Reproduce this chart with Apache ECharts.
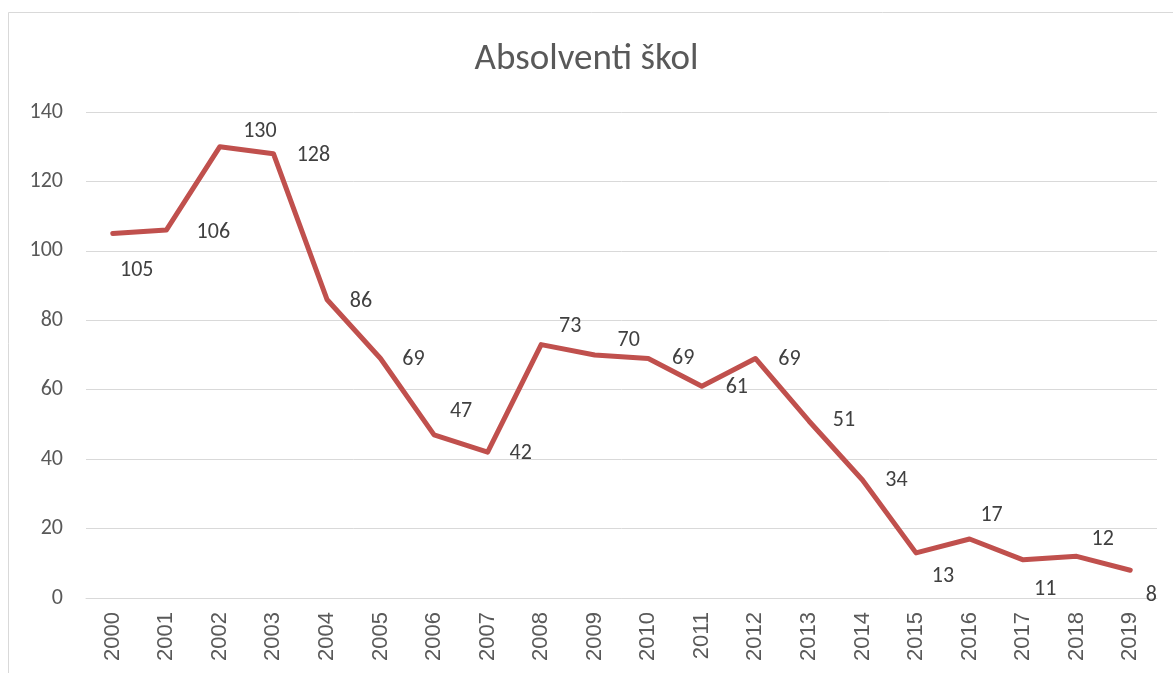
<!DOCTYPE html>
<html><head><meta charset="utf-8">
<script src="https://cdn.jsdelivr.net/npm/echarts@6/dist/echarts.min.js"></script>
<style>html,body{margin:0;padding:0;background:#fff}#c{width:1173px;height:673px}</style>
</head><body><div id="c"></div>
<script>
const categories = ['2000','2001','2002','2003','2004','2005','2006','2007','2008','2009','2010','2011','2012','2013','2014','2015','2016','2017','2018','2019'];
const values = [105,106,130,128,86,69,47,42,73,70,69,61,69,51,34,13,17,11,12,8];
const yTicks = {min:0, max:140, interval:20};
// label offsets (style only)
const labelOffsets = [[24,37],[47,2],[40,-15],[40,2],[34,2],[33,1],[27,-23],[33,1],[29,-18],[34,-15],[35,0],[35,1],[34,1],[35,0],[34,1],[27,24],[22,-23],[22,30],[26,-17],[21,25]];
const FONT = 'Carlito, Lato, sans-serif';
const chart = echarts.init(document.getElementById('c'), null, {renderer:'canvas'});
chart.setOption({
  animation:false,
  backgroundColor:'#fff',
  graphic:[{type:'rect', shape:{x:8.5,y:12.5,width:1200,height:700}, style:{fill:'none', stroke:'#D9D9D9', lineWidth:1}}],
  title:{text:'Absolventi škol', left:'center', top:36, textStyle:{fontFamily:FONT, fontSize:37, fontWeight:'normal', color:'#595959'}},
  grid:{left:86, right:16, top:112, bottom:75, containLabel:false},
  xAxis:{type:'category', data:categories, boundaryGap:true,
    axisLine:{lineStyle:{color:'#D9D9D9', width:1}}, axisTick:{show:false},
    axisLabel:{rotate:90, color:'#595959', fontFamily:'"Liberation Sans", Arial, sans-serif', fontSize:22, margin:14}},
  yAxis:{type:'value', min:yTicks.min, max:yTicks.max, interval:yTicks.interval,
    axisLine:{show:false}, axisTick:{show:false},
    splitLine:{lineStyle:{color:'#D9D9D9', width:1}},
    axisLabel:{color:'#595959', fontFamily:FONT, fontSize:22, margin:23}},
  series:[{type:'line', showSymbol:true, symbol:'circle', symbolSize:1,
    lineStyle:{color:'#C0504D', width:5, cap:'round', join:'round'},
    itemStyle:{color:'#C0504D'},
    data: values.map((v,i)=>({value:v, label:{show:true, position:'inside', offset:labelOffsets[i]}})),
    label:{show:true, color:'#404040', fontFamily:FONT, fontSize:22}
  }]
});
</script></body></html>
